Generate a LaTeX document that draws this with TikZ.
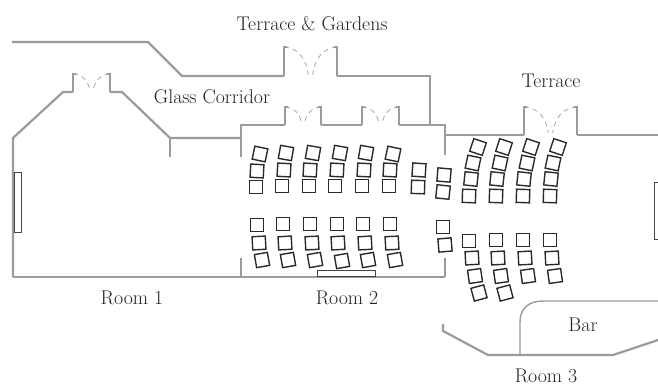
\documentclass[tikz,border=0pt]{standalone}
\newcommand{\doorleaves}[4]{% x0 x1 top bottom
  \pgfmathsetmacro{\dw}{#2-#1}\pgfmathsetmacro{\dh}{#4-#3}
  \draw[doorline] (#1,#3) .. controls ({#1+0.28*\dw},{#3+0.03*\dh}) and ({#1+0.42*\dw},{#3+0.45*\dh}) .. ({#1+0.46*\dw},#4);
  \draw[doorline] (#2,#3) .. controls ({#2-0.28*\dw},{#3+0.03*\dh}) and ({#2-0.42*\dw},{#3+0.45*\dh}) .. ({#2-0.46*\dw},#4);
}
\tikzset{
  wall/.style={draw=wallgray,line width=2.2pt,line join=miter},
  thinwall/.style={draw=wallgray,line width=1.4pt},
  doorline/.style={draw=wallgray,line width=0.7pt,dash pattern=on 5pt off 4pt},
  seat/.style={draw=seatblack,line width=1.4pt,minimum size=13.2pt,inner sep=0pt,outer sep=0pt,shape=rectangle},
  furniture/.style={draw=furngray,line width=1pt},
  label/.style={font=\fontsize{19.8}{22}\selectfont,text=labelblack,inner sep=0pt},
}
\definecolor{wallgray}{HTML}{9B9B9D}
\definecolor{seatblack}{HTML}{2A2A2A}
\definecolor{furngray}{HTML}{444444}
\definecolor{labelblack}{HTML}{222222}
\begin{document}
\begin{tikzpicture}[x=1pt,y=-1pt]
\useasboundingbox (0,0) rectangle (658,386);
\clip (0,0) rectangle (658,386);
% outer corridor wall
\draw[wall] (12,42) -- (148,42) -- (182,76) -- (284,76);
\draw[wall] (337,76) -- (430,76) -- (430,125);
\draw[thinwall] (284,76) -- (284,47) -- (287,47);
\draw[thinwall] (337,76) -- (337,47) -- (334,47);
\doorleaves{284}{337}{47}{75}
% room 2 top
\draw[wall] (241,157) -- (241,125) -- (285,125);
\draw[wall] (321,125) -- (362,125);
\draw[wall] (399,125) -- (445,125) -- (445,155);
\draw[thinwall] (285,125) -- (285,107) -- (288,107);
\draw[thinwall] (321,125) -- (321,107) -- (318,107);
\draw[thinwall] (362,125) -- (362,107) -- (365,107);
\draw[thinwall] (399,125) -- (399,107) -- (396,107);
\doorleaves{285}{321}{107}{124}
\doorleaves{362}{399}{107}{124}
% room 3 top
\draw[wall] (445,135) -- (524,135);
\draw[wall] (577,135) -- (658,135);
\draw[thinwall] (524,135) -- (524,107) -- (527,107);
\draw[thinwall] (577,135) -- (577,107) -- (574,107);
\doorleaves{524}{577}{107}{133}
% room 1
\draw[wall] (13,277) -- (13,138) -- (63,92) -- (73,92);
\draw[wall] (110,92) -- (122,92) -- (170,138) -- (241,138);
\draw[wall] (170,138) -- (170,157);
\draw[thinwall] (73,92) -- (73,74) -- (76,74);
\draw[thinwall] (110,92) -- (110,74) -- (107,74);
\doorleaves{73}{110}{74}{91}
% bottom
\draw[wall] (241,258) -- (241,277);
\draw[wall] (445,258) -- (445,277);
\draw[wall] (13,277) -- (445,277);
% room 3 bottom
\draw[wall] (443,324) -- (443,331) -- (488,355) -- (613,355) -- (658,340);
\draw[thinwall] (520,355) -- (520,322) .. controls (520,309) and (528,301) .. (543,301) -- (658,301);
% furniture
\draw[furniture,fill=white] (14,172) rectangle (21,232);
\draw[furniture,fill=white] (317,270) rectangle (375,276);
\draw[furniture] (660,182) -- (654,182) -- (654,239) -- (660,239);
% seats: x/y/rotation
\foreach \x/\y/\r [count=\i] in {
 260/154/-12,257/171/-3,256/187/0,
 286/153/-10,284/170/-3,282/186/0,
 313/153/-10,310/170/-3,309/186/0,
 340/153/-10,337/170/-3,335/186/0,
 366/153/-10,364/170/-3,362/186/0,
 393/154/-12,390/170/-3,389/186/0,
 419/170/-4,418/187/-2,
 444/175/-5,443/192/-6,
 257/225/0,283/224/0,310/224/0,337/224/0,363/224/0,390/224/0,
 259/243/3,285/243/3,312/243/3,338/243/3,365/243/3,392/243/3,
 262/260/10,288/260/10,315/260/10,342/261/10,368/260/10,395/260/10,
 443/227/0,445/245/5,
 478/147/-18,473/163/-12,471/179/-6,469/196/-2,
 504/147/-18,500/163/-12,497/179/-6,496/196/-2,
 531/147/-18,527/163/-12,524/179/-6,523/196/-2,
 558/147/-18,553/163/-12,551/179/-6,550/196/-2,
 469/241/0,496/240/0,523/240/0,550/240/0,
 472/258/3,498/258/3,525/258/3,552/258/3,
 475/276/8,501/276/8,528/276/8,555/276/8,
 479/293/15,505/293/15}
{ \node[seat,rotate=\r] (seat\i) at (\x,\y) {}; }
% labels
\node[label] (terracegardens) at (312,24) {Terrace \& Gardens};
\node[label] (glasscorridor) at (212,97) {Glass Corridor};
\node[label] (terrace) at (551,81) {Terrace};
\node[label] (room1) at (132,298) {Room 1};
\node[label] (room2) at (347,298) {Room 2};
\node[label] (bar) at (583,325) {Bar};
\node[label] (room3) at (546,376) {Room 3};
\end{tikzpicture}
\end{document}
